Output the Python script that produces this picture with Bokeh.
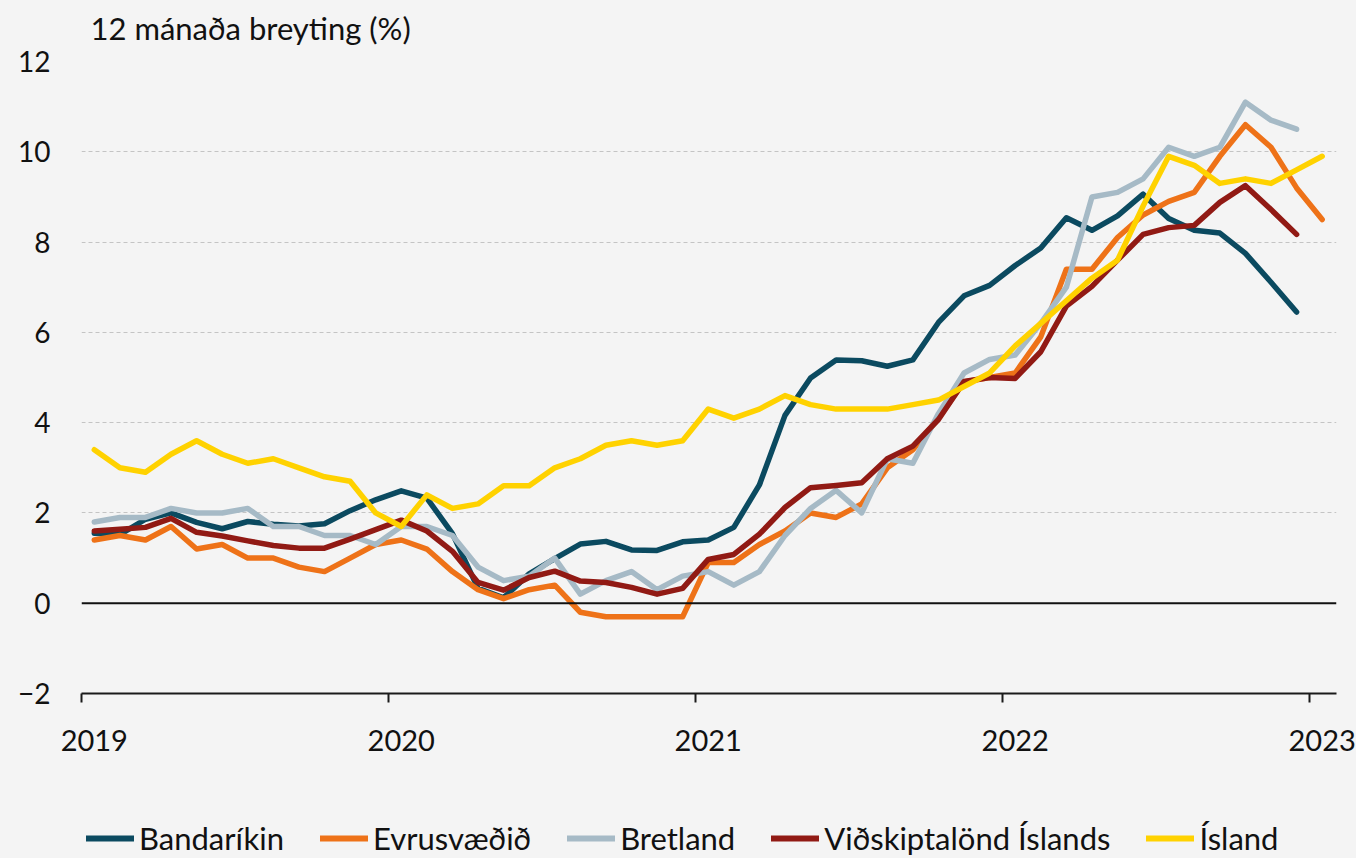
from bokeh.plotting import figure
from bokeh.layouts import column
from bokeh.models import Range1d, FixedTicker, LinearAxis, Legend, LegendItem, Span, Label
from bokeh.embed import file_html
from bokeh.resources import INLINE

# Monthly 12-month change (%), Jan 2019 .. (Dec 2022 / Jan 2023)
title_text = "12 mánaða breyting (%)"
year_labels = ["2019", "2020", "2021", "2022", "2023"]

bandarikin = [1.55, 1.52, 1.86, 2.00, 1.79, 1.65, 1.81, 1.75, 1.71, 1.76, 2.05, 2.29,
              2.49, 2.33, 1.54, 0.33, 0.12, 0.65, 0.99, 1.31, 1.37, 1.18, 1.17, 1.36,
              1.40, 1.68, 2.62, 4.16, 4.99, 5.39, 5.37, 5.25, 5.39, 6.22, 6.81, 7.04,
              7.48, 7.87, 8.54, 8.26, 8.58, 9.06, 8.52, 8.26, 8.20, 7.75, 7.11, 6.45]

evrusvaedid = [1.4, 1.5, 1.4, 1.7, 1.2, 1.3, 1.0, 1.0, 0.8, 0.7, 1.0, 1.3,
               1.4, 1.2, 0.7, 0.3, 0.1, 0.3, 0.4, -0.2, -0.3, -0.3, -0.3, -0.3,
               0.9, 0.9, 1.3, 1.6, 2.0, 1.9, 2.2, 3.0, 3.4, 4.1, 4.9, 5.0,
               5.1, 5.9, 7.4, 7.4, 8.1, 8.6, 8.9, 9.1, 9.9, 10.6, 10.1, 9.2,
               8.5]

bretland = [1.8, 1.9, 1.9, 2.1, 2.0, 2.0, 2.1, 1.7, 1.7, 1.5, 1.5, 1.3,
            1.7, 1.7, 1.5, 0.8, 0.5, 0.6, 1.0, 0.2, 0.5, 0.7, 0.3, 0.6,
            0.7, 0.4, 0.7, 1.5, 2.1, 2.5, 2.0, 3.2, 3.1, 4.2, 5.1, 5.4,
            5.5, 6.2, 7.0, 9.0, 9.1, 9.4, 10.1, 9.9, 10.1, 11.1, 10.7, 10.5]

vidskiptalond = [1.60, 1.64, 1.68, 1.88, 1.57, 1.49, 1.38, 1.28, 1.22, 1.22, 1.42, 1.63,
                 1.84, 1.60, 1.15, 0.46, 0.29, 0.57, 0.71, 0.49, 0.46, 0.35, 0.20, 0.33,
                 0.97, 1.08, 1.53, 2.12, 2.56, 2.61, 2.67, 3.20, 3.48, 4.07, 4.91, 5.00,
                 4.98, 5.57, 6.58, 7.02, 7.60, 8.17, 8.32, 8.37, 8.88, 9.25, 8.72, 8.17]

island = [3.4, 3.0, 2.9, 3.3, 3.6, 3.3, 3.1, 3.2, 3.0, 2.8, 2.7, 2.0,
          1.7, 2.4, 2.1, 2.2, 2.6, 2.6, 3.0, 3.2, 3.5, 3.6, 3.5, 3.6,
          4.3, 4.1, 4.3, 4.6, 4.4, 4.3, 4.3, 4.3, 4.4, 4.5, 4.8, 5.1,
          5.7, 6.2, 6.7, 7.2, 7.6, 8.8, 9.9, 9.7, 9.3, 9.4, 9.3, 9.6,
          9.9]

series = [
    ("Bandaríkin", bandarikin, "#0b4a60"),
    ("Evrusvæðið", evrusvaedid, "#ee7218"),
    ("Bretland", bretland, "#a6bac6"),
    ("Viðskiptalönd Íslands", vidskiptalond, "#911a14"),
    ("Ísland", island, "#ffd200"),
]

FONT = "Lato"
TXT = "#111111"
BG = "#f4f4f4"
LW = 5.5


def strip(height):
    f = figure(width=1356, height=height, output_backend="svg", toolbar_location=None,
               x_range=Range1d(0, 1), y_range=Range1d(-100, -99),
               x_axis_location=None, y_axis_location=None,
               background_fill_color=BG, border_fill_color=BG,
               min_border_left=0, min_border_right=0, min_border_top=0, min_border_bottom=0)
    f.outline_line_color = None
    f.xgrid.grid_line_color = None
    f.ygrid.grid_line_color = None
    return f


# header with the unit title
hd = strip(45)
hd.add_layout(Label(x=9, y=18, x_units="screen", y_units="screen", text=title_text,
                    text_font=FONT, text_font_size="31px", text_color=TXT,
                    text_baseline="middle", text_align="left"))

# main chart
p = figure(frame_width=1255, frame_height=632, output_backend="svg", toolbar_location=None,
           x_range=Range1d(-0.5, 48.56), y_range=Range1d(-2, 12),
           x_axis_location=None,
           background_fill_color=BG, border_fill_color=BG,
           min_border_left=81, min_border_right=20, min_border_top=16,
           min_border_bottom=72)
p.outline_line_color = None

ya = p.yaxis[0]
ya.ticker = FixedTicker(ticks=[-2, 0, 2, 4, 6, 8, 10, 12])
ya.axis_line_color = None
ya.major_tick_line_color = None
ya.minor_tick_line_color = None
ya.major_tick_out = 0
ya.major_tick_in = 0
ya.major_label_standoff = 31
ya.major_label_text_font = FONT
ya.major_label_text_font_size = "28px"
ya.major_label_text_color = TXT

p.xgrid.grid_line_color = None
p.ygrid.ticker = FixedTicker(ticks=[2, 4, 6, 8, 10, 12])
p.ygrid.grid_line_color = "#c4c4c4"
p.ygrid.grid_line_dash = "4 3"
p.ygrid.grid_line_width = 1

# x axis with tick marks at year boundaries
xa1 = LinearAxis(ticker=FixedTicker(ticks=[-0.5, 11.5, 23.5, 35.5, 47.5]),
                 major_label_overrides={-0.5: "", 11.5: "", 23.5: "", 35.5: "", 47.5: ""})
xa1.axis_line_color = "#1a1a1a"
xa1.axis_line_width = 2
xa1.major_tick_line_color = "#1a1a1a"
xa1.major_tick_line_width = 2
xa1.major_tick_in = 0
xa1.major_tick_out = 9
xa1.minor_tick_line_color = None
xa1.major_label_text_font_size = "1px"
xa1.major_label_standoff = 0
p.add_layout(xa1, "below")

# year labels centred on the first month of each year
label_pos = [0, 12, 24, 36, 48]
xa2 = LinearAxis(ticker=FixedTicker(ticks=label_pos),
                 major_label_overrides={pos: lab for pos, lab in zip(label_pos, year_labels)})
xa2.axis_line_color = None
xa2.major_tick_line_color = None
xa2.minor_tick_line_color = None
xa2.major_tick_in = 0
xa2.major_tick_out = 0
xa2.major_label_standoff = 27
xa2.major_label_text_font = FONT
xa2.major_label_text_font_size = "29px"
xa2.major_label_text_color = TXT
p.add_layout(xa2, "below")

p.add_layout(Span(location=0, dimension="width", line_color="#111111", line_width=2))

for name, vals, col in series:
    p.line(list(range(len(vals))), vals, line_color=col, line_width=LW,
           line_cap="round", line_join="round")

# legend strip below the chart (series drawn outside its view, only the key shows)
lg = strip(93)
items = []
for name, vals, col in series:
    r = lg.line(list(range(len(vals))), vals, line_color=col, line_width=LW + 0.5,
                line_cap="round")
    items.append(LegendItem(label=name, renderers=[r]))

legend = Legend(items=items, orientation="horizontal", location=(5, 1))
legend.background_fill_alpha = 0
legend.border_line_color = None
legend.label_text_font = FONT
legend.label_text_font_size = "31px"
legend.label_text_color = TXT
legend.glyph_width = 48
legend.glyph_height = 20
legend.label_standoff = 5
legend.spacing = 36
legend.padding = 0
legend.margin = 0
lg.add_layout(legend, "center")

layout = column(hd, p, lg, spacing=0)
layout.styles = {"background-color": BG}

open("out.html", "w").write(file_html(layout, INLINE))
